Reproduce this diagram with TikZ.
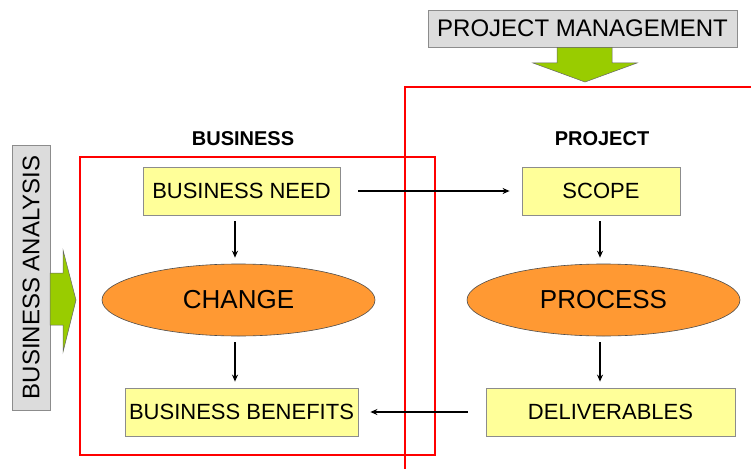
\documentclass[tikz,border=0pt]{standalone}
\usepackage{fontspec}
\setmainfont{Liberation Sans}
\usepackage{tikz}
\usetikzlibrary{arrows.meta,calc,shapes.geometric}
\definecolor{noteyellow}{HTML}{FFFF99}
\definecolor{ovalorange}{HTML}{FF9933}
\definecolor{pushgreen}{HTML}{99CC00}
\definecolor{boxgrey}{HTML}{DCDCDC}
\definecolor{edgegrey}{HTML}{8C8C8C}
\definecolor{scopered}{HTML}{FF0000}

\begin{document}
\begin{tikzpicture}[x=1pt, y=-1pt,
    every node/.style={inner sep=0pt, text=black},
    greybox/.style={rectangle, draw=edgegrey, fill=boxgrey, line width=0.8pt, font=\fontsize{24}{26}\selectfont},
    notebox/.style={rectangle, draw=edgegrey, fill=noteyellow, line width=0.8pt, minimum height=48pt, font=\fontsize{22}{24}\selectfont},
    ovalnode/.style={ellipse, draw=black!70, fill=ovalorange, line width=0.6pt, minimum width=273pt, minimum height=72pt, font=\fontsize{26}{28}\selectfont},
    heading/.style={font=\fontsize{20}{22}\selectfont\bfseries},
    flow/.style={-{Stealth[length=7pt,width=6pt]}, line width=1.3pt, shorten >=6pt, shorten <=6pt},
    redframe/.style={draw=scopered, line width=2.6pt},
    blockarrow/.style={fill=pushgreen, draw=black!60, line width=0.5pt}
]
\clip (0,0) rectangle (751,468);
\fill[white] (0,0) rectangle (751,468);

% frames
\draw[redframe] (405,87) rectangle (820,520);
\draw[redframe] (80,157) rectangle (435,455);

% headings
\node[heading] (bizhead) at (243,139) {BUSINESS};
\node[heading] (projhead) at (602,139) {PROJECT};

% management and analysis
\node[greybox, minimum width=309pt, minimum height=37pt] (projman) at (582.5,28.5) {PROJECT MANAGEMENT};
\node[greybox, rotate=90, minimum width=265pt, minimum height=38pt] (bizan) at (31,277.5) {BUSINESS ANALYSIS};

\draw[blockarrow] (projman.south -| 557,0) -- (557,63) -- (533,63) -- (585,82) -- (637,63) -- (612,63) -- (projman.south -| 612,0) -- cycle;
\draw[blockarrow] (50,273) -- (63,273) -- (63,250) -- (76,300) -- (63,352) -- (63,325) -- (50,325) -- cycle;

% business side
\node[notebox, minimum width=197pt] (need) at (241.5,191) {BUSINESS NEED};
\node[ovalnode] (change) at (238.5,300) {CHANGE};
\node[notebox, minimum width=233pt] (benefits) at (241.5,412) {BUSINESS BENEFITS};

% project side
\node[notebox, minimum width=158pt] (scope) at (601,191) {SCOPE};
\node[ovalnode] (process) at (603.5,300) {PROCESS};
\node[notebox, minimum width=249pt] (deliv) at (610.5,412) {DELIVERABLES};

\draw[flow] (need.south -| 235,0) -- (change.north -| 235,0);
\draw[flow] (change.south -| 235,0) -- (benefits.north -| 235,0);
\draw[flow] (scope.south -| 600,0) -- (process.north -| 600,0);
\draw[flow] (process.south -| 600,0) -- (deliv.north -| 600,0);
\draw[flow, shorten <=18pt, shorten >=12pt] (need.east) -- (scope.west);
\draw[flow, shorten <=18pt, shorten >=12pt] (deliv.west) -- (benefits.east);
\end{tikzpicture}
\end{document}
